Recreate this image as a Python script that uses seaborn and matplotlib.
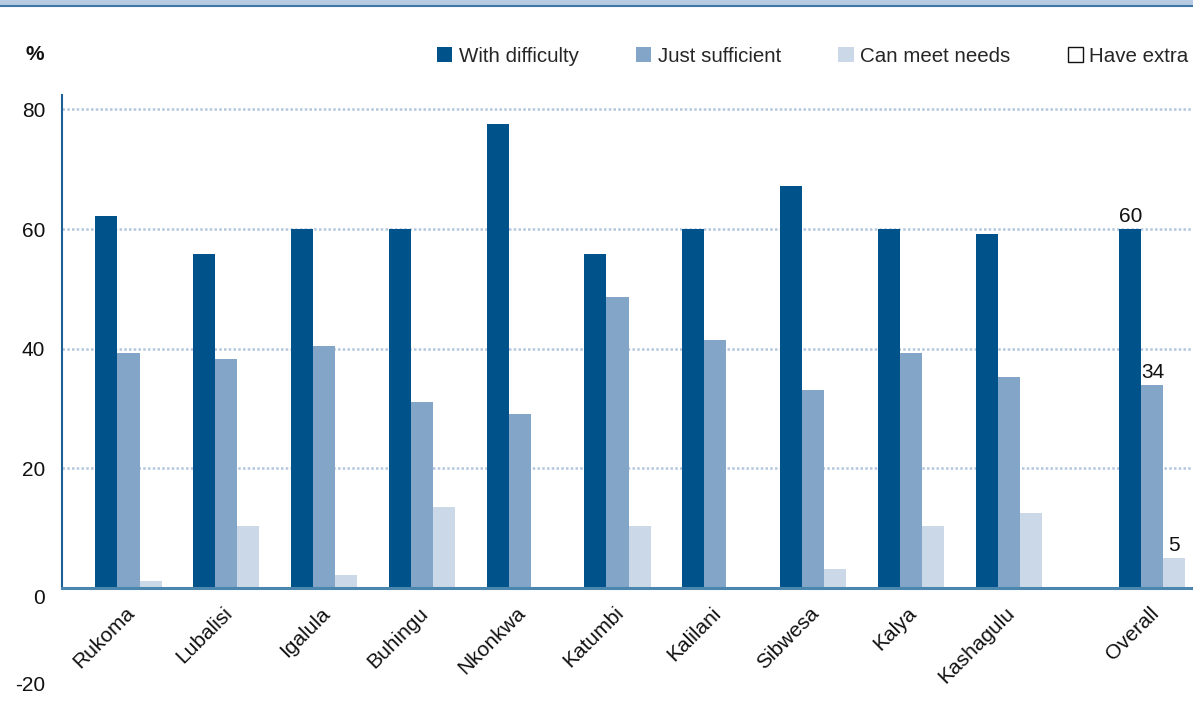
import numpy as np
import pandas as pd
import matplotlib
matplotlib.use("Agg")
import matplotlib.pyplot as plt
import matplotlib.transforms as mtransforms
from matplotlib.patches import Patch, Rectangle
from matplotlib.lines import Line2D
import seaborn as sns

# ---------------- data ----------------
villages = ["Rukoma", "Lubalisi", "Igalula", "Buhingu", "Nkonkwa", "Katumbi",
            "Kalilani", "Sibwesa", "Kalya", "Kashagulu", "Overall"]
series = ["With difficulty", "Just sufficient", "Can meet needs", "Have extra"]
with_difficulty = [62.1, 55.8, 60.0, 60.0, 77.6, 55.8, 60.0, 67.2, 60.0, 59.2, 60]
just_sufficient = [39.3, 38.3, 40.4, 31.1, 29.1, 48.6, 41.4, 33.1, 39.3, 35.3, 34]
can_meet_needs = [1.2, 10.4, 2.2, 13.5, 0.0, 10.4, 0.0, 3.2, 10.4, 12.5, 5]
have_extra = [0, 0, 0, 0, 0, 0, 0, 0, 0, 0, 0]
y_ticks = [-20, 0, 20, 40, 60, 80]

# ---------------- layout (category slots; Overall set apart) ----------------
slot_pos = list(range(len(villages) - 1)) + [len(villages) - 1 + 0.47]

colors = ["#00538a", "#83a5c7", "#cbd8e7", "#ffffff"]

rows = []
for vals, s in zip([with_difficulty, just_sufficient, can_meet_needs, have_extra], series):
    for p, v in zip(slot_pos, vals):
        rows.append({"pos": p, "series": s, "value": v})
df = pd.DataFrame(rows)

sns.set_theme(style="white")
plt.rcParams["font.family"] = ["Liberation Sans", "DejaVu Sans"]

W, H = 1193, 710
fig = plt.figure(figsize=(W / 100, H / 100), dpi=100)

px_per_unit = 5.983
y0 = 588  # pixel row of value 0
top_px = 95
ax = fig.add_axes([62 / W, 0, 1 - 62 / W, (H - top_px) / H])

sns.barplot(data=df, x="pos", y="value", hue="series", hue_order=series,
            palette=colors, native_scale=True, width=0.9, gap=0,
            linewidth=0, saturation=1, errorbar=None, legend=False, ax=ax)

ax.set_ylim(-(H - y0) / px_per_unit, (y0 - top_px) / px_per_unit)
ax.set_xlim((62 - 139.5) / 97.8, (W - 139.5) / 97.8)

# spines (set before tick labels: set_position resets ticks)
for s in ["top", "right"]:
    ax.spines[s].set_visible(False)
ax.spines["left"].set_bounds(0, (y0 - top_px) / px_per_unit)
ax.spines["left"].set_color("#1d5f97")
ax.spines["left"].set_linewidth(1.5)
ax.spines["bottom"].set_position(("data", 0))
ax.spines["bottom"].set_color("#4a86ad")
ax.spines["bottom"].set_linewidth(2.2)
ax.spines["bottom"].set_zorder(5)

# ticks (tick_params first: changing pad recreates tick labels)
ax.tick_params(axis="x", length=0, pad=16)
ax.tick_params(axis="y", length=0, pad=12)
ax.set_xticks(slot_pos)
ax.set_xticklabels(villages, rotation=45, ha="right", va="center",
                   rotation_mode="anchor", fontsize=15, color="#111111")
ax.set_yticks(y_ticks)
ax.set_yticklabels([str(t) for t in y_ticks], fontsize=15, color="#111111")
ax.set_xlabel("")
ax.set_ylabel("")

shift_x = mtransforms.ScaledTranslation(-8 / 100, 0, fig.dpi_scale_trans)
for lab in ax.get_xticklabels():
    lab.set_transform(lab.get_transform() + shift_x)

# label offsets for 0 and -20 as in the reference
for lab in ax.get_yticklabels():
    if lab.get_text() == "0":
        lab.set_transform(lab.get_transform() +
                          mtransforms.ScaledTranslation(0, -9 / 100, fig.dpi_scale_trans))
    elif lab.get_text() == "-20":
        lab.set_transform(lab.get_transform() +
                          mtransforms.ScaledTranslation(0, 24 / 100, fig.dpi_scale_trans))

# grid
ax.set_axisbelow(True)
ax.yaxis.grid(True, linestyle=(0, (1, 0.9)), color="#b3c6de", linewidth=1.8)
ax.xaxis.grid(False)
for gl, t in zip(ax.get_ygridlines(), y_ticks):
    if t <= 0:
        gl.set_visible(False)

# value labels on the Overall group
for cont, vals in zip(ax.containers[:3], [with_difficulty, just_sufficient, can_meet_needs]):
    labels = [""] * (len(vals) - 1) + [f"{vals[-1]:g}"]
    ax.bar_label(cont, labels=labels, padding=2, fontsize=15, color="#111111")

# legend
handles = [Patch(facecolor=c, edgecolor=("#111111" if c == "#ffffff" else c),
                 linewidth=(1.0 if c == "#ffffff" else 0)) for c in colors]
fig.legend(handles, series, loc="center right", bbox_to_anchor=(0.998, 1 - 56 / H),
           ncol=4, frameon=False, fontsize=14.8, handlelength=0.75, handleheight=0.75,
           handletextpad=0.3, columnspacing=2.8, borderaxespad=0, borderpad=0.1)

# percent sign
fig.text(35 / W, 1 - 55 / H, "%", ha="center", va="center", fontsize=15,
         fontweight="bold", color="#111111")

# top band
fig.patches.append(Rectangle((0, 1 - 5 / H), 1, 5 / H, transform=fig.transFigure,
                             facecolor="#b7cbe2", edgecolor="none", zorder=0))
fig.lines.append(Line2D([0, 1], [1 - 5.5 / H] * 2, transform=fig.transFigure,
                        color="#3f76a8", linewidth=1.5))

fig.savefig("out.png", dpi=100)
